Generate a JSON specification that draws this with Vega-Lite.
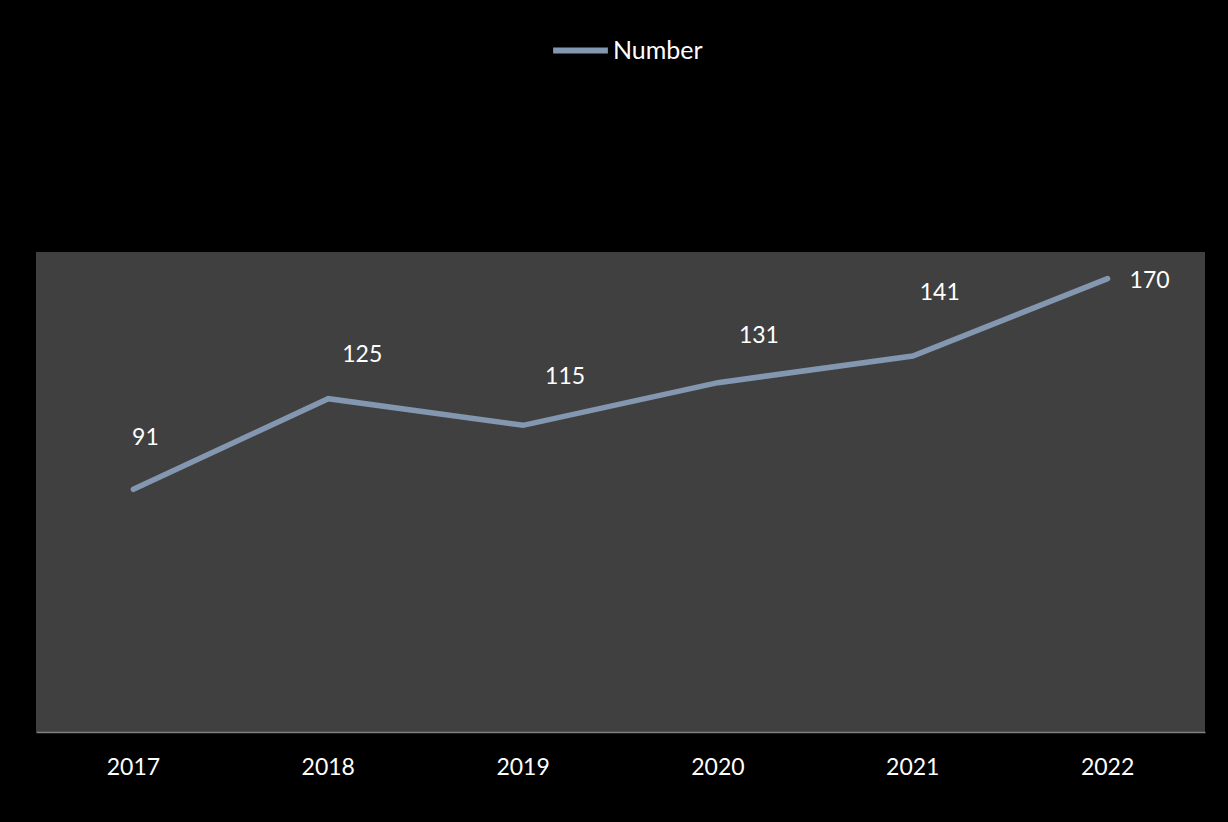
{
  "$schema": "https://vega.github.io/schema/vega-lite/v6.json",
  "autosize": {"type": "none"},
  "width": 1169,
  "height": 480,
  "padding": {"left": 36, "top": 252, "right": 23, "bottom": 90},
  "background": "#000000",
  "config": {
    "view": {"fill": "#404040", "stroke": null},
    "font": "Lato",
    "text": {"font": "Lato"}
  },
  "data": {
    "values": [
      {"year": "2017", "value": 91},
      {"year": "2018", "value": 125},
      {"year": "2019", "value": 115},
      {"year": "2020", "value": 131},
      {"year": "2021", "value": 141},
      {"year": "2022", "value": 170}
    ]
  },
  "encoding": {
    "x": {
      "field": "year",
      "type": "ordinal",
      "scale": {"type": "band", "paddingInner": 0, "paddingOuter": 0},
      "axis": {
        "title": null,
        "labelAngle": 0,
        "labelColor": "#ffffff",
        "labelFont": "Lato",
        "labelFontSize": 23,
        "labelPadding": 24,
        "ticks": false,
        "grid": false,
        "domainColor": "#7f7f7f",
        "domainWidth": 1.5
      }
    },
    "y": {
      "field": "value",
      "type": "quantitative",
      "scale": {"domain": [0, 180], "nice": false, "zero": true},
      "axis": null
    }
  },
  "layer": [
    {
      "mark": {"type": "line", "strokeWidth": 5.5, "strokeCap": "round", "strokeJoin": "miter"},
      "encoding": {
        "color": {
          "datum": "Number",
          "type": "nominal",
          "scale": {"range": ["#8497B0"]},
          "legend": {
            "title": null,
            "orient": "none",
            "legendX": 514,
            "legendY": -232,
            "symbolType": "stroke",
            "symbolStrokeWidth": 6,
            "symbolSize": 3000,
            "labelColor": "#ffffff",
            "labelFont": "Lato",
            "labelFontSize": 25,
            "labelOffset": 2,
            "symbolOffset": 0
          }
        }
      }
    },
    {
      "transform": [{"filter": "datum.year == '2017'"}],
      "mark": {"type": "text", "color": "#ffffff", "fontSize": 23, "dx": 12, "dy": -51, "baseline": "middle", "align": "center"},
      "encoding": {"text": {"field": "value", "type": "quantitative"}}
    },
    {
      "transform": [{"filter": "datum.year == '2018'"}],
      "mark": {"type": "text", "color": "#ffffff", "fontSize": 23, "dx": 34, "dy": -44, "baseline": "middle", "align": "center"},
      "encoding": {"text": {"field": "value", "type": "quantitative"}}
    },
    {
      "transform": [{"filter": "datum.year == '2019'"}],
      "mark": {"type": "text", "color": "#ffffff", "fontSize": 23, "dx": 42, "dy": -48, "baseline": "middle", "align": "center"},
      "encoding": {"text": {"field": "value", "type": "quantitative"}}
    },
    {
      "transform": [{"filter": "datum.year == '2020'"}],
      "mark": {"type": "text", "color": "#ffffff", "fontSize": 23, "dx": 41, "dy": -47, "baseline": "middle", "align": "center"},
      "encoding": {"text": {"field": "value", "type": "quantitative"}}
    },
    {
      "transform": [{"filter": "datum.year == '2021'"}],
      "mark": {"type": "text", "color": "#ffffff", "fontSize": 23, "dx": 27, "dy": -63, "baseline": "middle", "align": "center"},
      "encoding": {"text": {"field": "value", "type": "quantitative"}}
    },
    {
      "transform": [{"filter": "datum.year == '2022'"}],
      "mark": {"type": "text", "color": "#ffffff", "fontSize": 23, "dx": 42, "dy": 2, "baseline": "middle", "align": "center"},
      "encoding": {"text": {"field": "value", "type": "quantitative"}}
    }
  ]
}
